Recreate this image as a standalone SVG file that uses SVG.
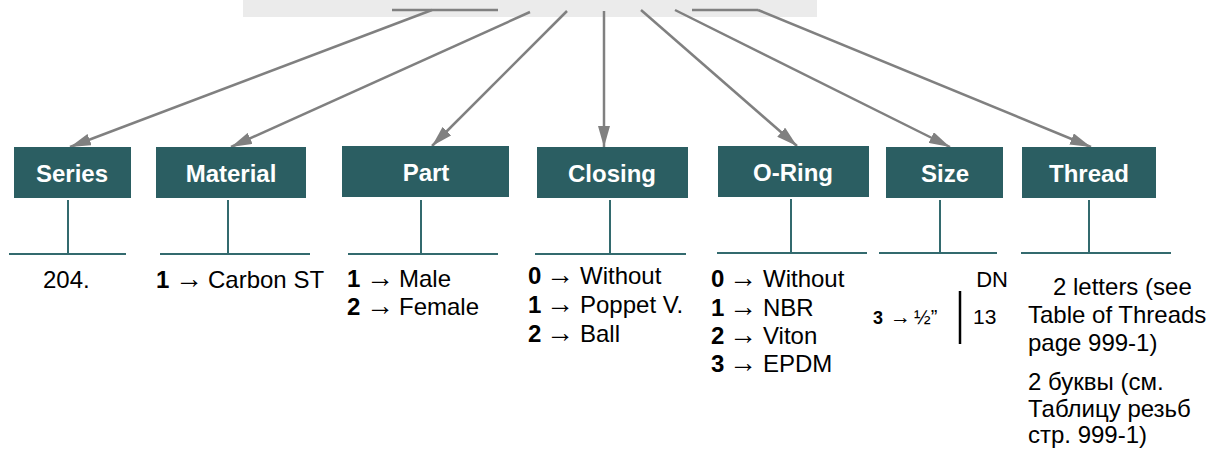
<svg xmlns="http://www.w3.org/2000/svg" width="1213" height="454" viewBox="0 0 1213 454">
<defs>
<marker id="ah" viewBox="0 0 21 12" refX="21" refY="6" markerWidth="21" markerHeight="12" markerUnits="userSpaceOnUse" orient="auto">
<path d="M0,0 L21,6 L0,12 Z" fill="#808080"/>
</marker>
<style>
.node{fill:#2b5e62}
.lbl{font-family:"Liberation Sans",Arial,sans-serif;font-size:24px;font-weight:bold;fill:#ffffff;text-anchor:middle}
.arr{stroke:#808080;stroke-width:2.5;fill:none;marker-end:url(#ah)}
.tick{stroke:#808080;stroke-width:2.5;fill:none}
.br{stroke:#336a6e;stroke-width:2;fill:none}
.t{font-family:"Liberation Sans",Arial,sans-serif;font-size:24px;fill:#000000}
.b{font-weight:bold}
.a{font-size:28px}
</style>
</defs>
<rect x="243" y="0" width="574" height="17" fill="#ebebeb"/>
<g id="connectors">
<line class="tick" x1="392" y1="10" x2="498" y2="10"/>
<line class="tick" x1="692" y1="10" x2="758" y2="10"/>
<line class="arr" x1="432" y1="10" x2="70" y2="147"/>
<line class="arr" x1="530" y1="12" x2="231" y2="147"/>
<line class="arr" x1="567" y1="11" x2="432" y2="146"/>
<line class="arr" x1="604" y1="11" x2="604" y2="147"/>
<line class="arr" x1="641" y1="10" x2="797" y2="146"/>
<line class="arr" x1="675" y1="10" x2="950" y2="147"/>
<line class="arr" x1="758" y1="10" x2="1091" y2="147"/>
</g>
<g id="series">
<rect class="node" x="14" y="147" width="117" height="51"/>
<text class="lbl" x="72" y="182">Series</text>
<path class="br" d="M68,200 V254 M9,254 H126"/>
<text class="t" x="43" y="288">204.</text>
</g>
<g id="material">
<rect class="node" x="156" y="147" width="150" height="51"/>
<text class="lbl" x="231" y="182">Material</text>
<path class="br" d="M228,200 V254 M160,254 H310"/>
<text class="t" x="156" y="288"><tspan class="b">1</tspan><tspan class="a" x="175">→</tspan><tspan x="208">Carbon ST</tspan></text>
</g>
<g id="part">
<rect class="node" x="342" y="146" width="167" height="51"/>
<text class="lbl" x="426" y="181">Part</text>
<path class="br" d="M421,200 V254 M348,254 H498"/>
<text class="t" x="347" y="287"><tspan class="b">1</tspan><tspan class="a" x="366">→</tspan><tspan x="399">Male</tspan></text>
<text class="t" x="347" y="315"><tspan class="b">2</tspan><tspan class="a" x="366">→</tspan><tspan x="399">Female</tspan></text>
</g>
<g id="closing">
<rect class="node" x="537" y="147" width="151" height="51"/>
<text class="lbl" x="612" y="182">Closing</text>
<path class="br" d="M610,200 V254 M535,254 H686"/>
<text class="t" x="528" y="284"><tspan class="b">0</tspan><tspan class="a" x="546">→</tspan><tspan x="580">Without</tspan></text>
<text class="t" x="528" y="313"><tspan class="b">1</tspan><tspan class="a" x="546">→</tspan><tspan x="580">Poppet V.</tspan></text>
<text class="t" x="528" y="342"><tspan class="b">2</tspan><tspan class="a" x="546">→</tspan><tspan x="580">Ball</tspan></text>
</g>
<g id="oring">
<rect class="node" x="718" y="146" width="151" height="51"/>
<text class="lbl" x="793" y="181">O-Ring</text>
<path class="br" d="M791,199 V253 M717,253 H867"/>
<text class="t" x="711" y="287"><tspan class="b">0</tspan><tspan class="a" x="729">→</tspan><tspan x="763">Without</tspan></text>
<text class="t" x="711" y="316"><tspan class="b">1</tspan><tspan class="a" x="729">→</tspan><tspan x="763">NBR</tspan></text>
<text class="t" x="711" y="344"><tspan class="b">2</tspan><tspan class="a" x="729">→</tspan><tspan x="763">Viton</tspan></text>
<text class="t" x="711" y="372"><tspan class="b">3</tspan><tspan class="a" x="729">→</tspan><tspan x="763">EPDM</tspan></text>
</g>
<g id="size">
<rect class="node" x="886" y="147" width="117" height="51"/>
<text class="lbl" x="945" y="182">Size</text>
<path class="br" d="M940,200 V253 M879,253 H997"/>
<text class="t" x="1008" y="287" style="font-size:22px;text-anchor:end">DN</text>
<text class="t" x="873" y="324" style="font-size:18px"><tspan class="b">3</tspan><tspan x="890" style="font-size:21px">→</tspan><tspan x="914" style="font-size:20px">½”</tspan></text>
<line x1="960" y1="291" x2="960" y2="344" stroke="#000000" stroke-width="2.5"/>
<text class="t" x="973" y="324" style="font-size:21px">13</text>
</g>
<g id="thread">
<rect class="node" x="1022" y="147" width="134" height="51"/>
<text class="lbl" x="1089" y="182">Thread</text>
<path class="br" d="M1089,200 V253 M1021,253 H1171"/>
<text class="t" x="1053" y="295">2 letters (see</text>
<text class="t" x="1028" y="323">Table of Threads</text>
<text class="t" x="1028" y="351">page 999-1)</text>
<text class="t" x="1028" y="390">2 буквы (см.</text>
<text class="t" x="1028" y="417">Таблицу резьб</text>
<text class="t" x="1028" y="443">стр. 999-1)</text>
</g>
</svg>
